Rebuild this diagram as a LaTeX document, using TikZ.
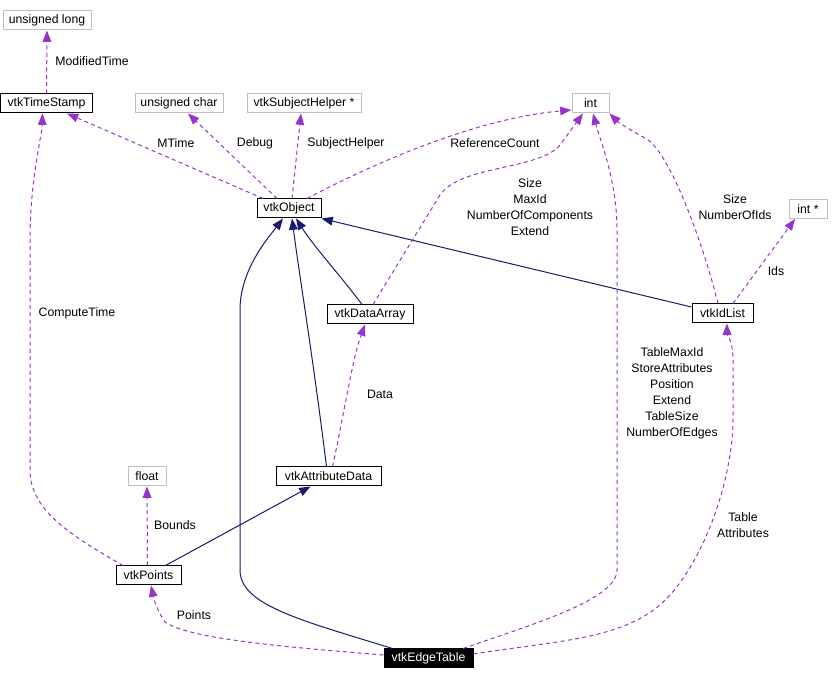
\documentclass[tikz,border=0pt]{standalone}
\usepackage{fontspec}
\setmainfont{Liberation Sans}
\usetikzlibrary{arrows.meta,calc}
\definecolor{memb}{RGB}{154,50,205}
\definecolor{inh}{RGB}{25,25,112}
\definecolor{extb}{RGB}{191,191,191}
\tikzset{
  box/.style={draw, line width=0.75pt, inner sep=0pt, minimum height=19*0.75pt, font=\fontsize{9.2}{12}\selectfont},
  cls/.style={box, draw=black},
  ext/.style={box, draw=extb},
  cur/.style={box, draw=black, fill=black, text=white},
  member/.style={draw=memb, line width=0.75pt, dash pattern=on 3pt off 2.5pt, -{Triangle[length=8.5pt,width=6.5pt,fill=memb]}},
  inherit/.style={draw=inh, line width=0.75pt, -{Triangle[length=8.5pt,width=6.5pt,fill=inh]}},
  lbl/.style={align=center, inner sep=0pt, font=\fontsize{9.2}{12}\selectfont}
}
\begin{document}
\begin{tikzpicture}[x=0.75pt,y=-0.75pt]
\useasboundingbox (0,0) rectangle (840,680);
% nodes
\node[ext, minimum width=88*0.75pt] (ulong) at (47,20.5) {unsigned long};
\node[cls, minimum width=92*0.75pt] (ts) at (46.5,103.5) {vtkTimeStamp};
\node[ext, minimum width=88*0.75pt] (uchar) at (179,103.5) {unsigned char};
\node[ext, minimum width=114*0.75pt] (subj) at (304,103.5) {vtkSubjectHelper *};
\node[ext, minimum width=37*0.75pt] (int) at (590.5,103.5) {int};
\node[cls, minimum width=64*0.75pt] (obj) at (289,208.5) {vtkObject};
\node[ext, minimum width=38*0.75pt] (intp) at (808,209) {int *};
\node[cls, minimum width=86*0.75pt] (da) at (370,314.5) {vtkDataArray};
\node[cls, minimum width=61*0.75pt] (idl) at (722.5,313.5) {vtkIdList};
\node[ext, minimum width=38*0.75pt] (flt) at (147,476.5) {float};
\node[cls, minimum width=105*0.75pt] (ad) at (328.5,476.5) {vtkAttributeData};
\node[cls, minimum width=65*0.75pt] (pts) at (148.5,575.5) {vtkPoints};
\node[cur, minimum width=89*0.75pt] (et) at (428.5,658.5) {vtkEdgeTable};

% inheritance
\draw[inherit] ($(et.north)+(-36,0)$) .. controls (300,620) and (240,605) .. (240,570) -- (240,310) .. controls (240,270) and (268,238) .. ($(obj.south)+(-6,0)$);
\draw[inherit] ($(ad.north)+(-2,0)$) .. controls (312,350) and (300,280) .. ($(obj.south)+(3,0)$);
\draw[inherit] ($(da.north)+(-8,0)$) .. controls (340,275) and (315,248) .. ($(obj.south)+(7,0)$);
\draw[inherit] ($(idl.west)+(0,-6.5)$) -- (obj.south east);
\draw[inherit] ($(pts.north)+(17,0)$) -- ($(ad.south)+(-18,0)$);

% members
\draw[member] (ts.north) -- (ulong.south);
\draw[member] ($(obj.north)+(-26,0)$) -- ($(ts.south)+(20.5,0)$);
\draw[member] ($(obj.north)+(-12,0)$) -- ($(uchar.south)+(9,0)$);
\draw[member] ($(obj.north)+(3,0)$) -- ($(subj.south)+(-3,0)$);
\draw[member] ($(obj.north)+(18,0)$) .. controls (380,160) and (480,118) .. ($(int.west)+(0,6.5)$);
\draw[member] ($(da.north)+(3,0)$) -- (440,195) .. controls (460,165) and (540,170) .. (560,145) -- ($(int.south)+(-7.5,0)$);
\draw[member] ($(et.north)+(34.5,0)$) .. controls (530,625) and (617,600) .. (617,570) -- (617,230) .. controls (617,180) and (600,140) .. ($(int.south)+(2.5,0)$);
\draw[member] ($(idl.north)+(-4.5,0)$) .. controls (705,250) and (670,150) .. (645,138) .. controls (630,130) and (618,122) .. (int.south east);
\draw[member] ($(idl.north)+(10.5,0)$) -- ($(intp.south)+(-13,0)$);
\draw[member] ($(pts.north)+(-25.5,0)$) .. controls (70,535) and (30,510) .. (30,470) -- (30,240) .. controls (30,180) and (42,135) .. ($(ts.south)+(-4,0)$);
\draw[member] ($(pts.north)+(-1,0)$) -- (flt.south);
\draw[member] ($(ad.north)+(4,0)$) .. controls (345,410) and (352,360) .. ($(da.south)+(-5,0)$);
\draw[member] ($(et.east)+(0,-4.5)$) .. controls (560,640) and (630,640) .. (670,595) .. controls (710,550) and (733,470) .. (733,420) -- (733,360) .. controls (733,340) and (727,335) .. ($(idl.south)+(4.5,0)$);
\draw[member] ($(et.west)+(0,-3.5)$) .. controls (300,648) and (190,640) .. (165,622) .. controls (157,610) and (154,600) .. ($(pts.south)+(2.5,0)$);

% labels
\node[lbl] (l1) at (92,61) {ModifiedTime};
\node[lbl] (l2) at (176,143) {MTime};
\node[lbl] (l3) at (255,143) {Debug};
\node[lbl] (l4) at (346,143) {SubjectHelper};
\node[lbl] (l5) at (495,143) {ReferenceCount};
\node[lbl] (l6) at (530,207) {Size\\MaxId\\NumberOfComponents\\Extend};
\node[lbl] (l7) at (735,207) {Size\\NumberOfIds};
\node[lbl] (l8) at (776,271) {Ids};
\node[lbl] (l9) at (77,313) {ComputeTime};
\node[lbl] (l10) at (380,394) {Data};
\node[lbl] (l11) at (175,525) {Bounds};
\node[lbl] (l12) at (194,615) {Points};
\node[lbl] (l13) at (672,393) {TableMaxId\\StoreAttributes\\Position\\Extend\\TableSize\\NumberOfEdges};
\node[lbl] (l14) at (743,525) {Table\\Attributes};
\end{tikzpicture}
\end{document}
